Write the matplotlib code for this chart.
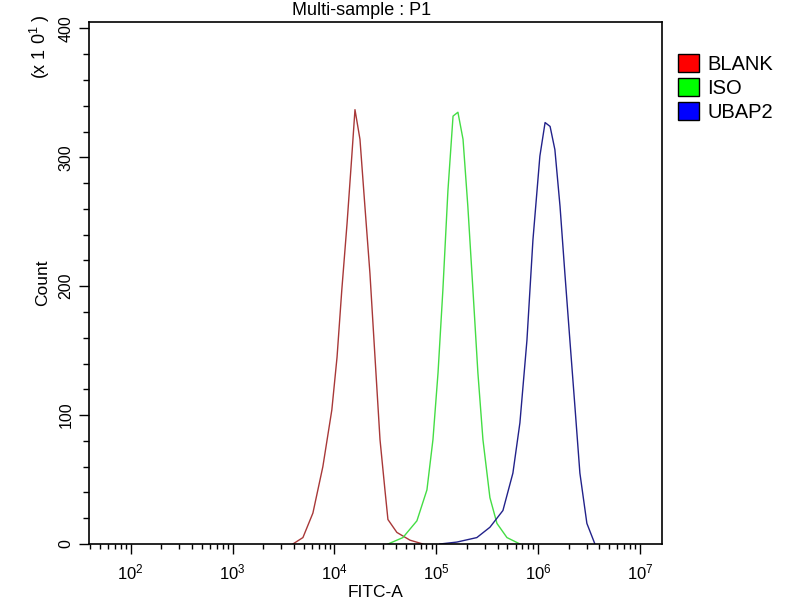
import numpy as np
import matplotlib
matplotlib.use("Agg")
import matplotlib.pyplot as plt
from matplotlib.patches import Patch
from matplotlib.ticker import LogLocator, MultipleLocator, NullFormatter

plt.rcParams['font.family'] = ['Liberation Sans', 'DejaVu Sans']
plt.rcParams['mathtext.fontset'] = 'custom'
plt.rcParams['mathtext.rm'] = 'Liberation Sans'

# Data (FITC-A value, count in units of 10^1)
blank_x = [3.90e3, 4.90e3, 6.14e3, 7.69e3, 9.42e3, 1.06e4, 1.18e4, 1.33e4, 1.48e4, 1.59e4,
           1.78e4, 1.99e4, 2.23e4, 2.50e4, 2.80e4, 3.13e4, 3.35e4, 4.10e4, 5.51e4, 7.39e4]
blank_y = [0, 5, 24, 60, 104, 145, 197, 249, 301, 337,
           314, 262, 210, 145, 81, 42, 19, 9, 3, 0]

iso_x = [3.35e4, 4.70e4, 6.45e4, 8.09e4, 9.27e4, 1.04e5, 1.16e5, 1.30e5, 1.46e5, 1.63e5,
         1.83e5, 2.04e5, 2.29e5, 2.56e5, 2.87e5, 3.36e5, 3.94e5, 4.94e5, 6.63e5]
iso_y = [0, 5, 18, 42, 81, 133, 197, 274, 332, 335,
         314, 262, 197, 133, 81, 36, 16, 5, 0]

ubap2_x = [1.08e5, 1.59e5, 2.50e5, 3.36e5, 4.51e5, 5.65e5, 6.62e5, 7.76e5, 8.89e5, 1.04e6,
           1.17e6, 1.31e6, 1.46e6, 1.64e6, 1.83e6, 2.05e6, 2.30e6, 2.57e6, 3.01e6, 3.61e6]
ubap2_y = [0, 1.5, 5, 13, 26, 55, 94, 158, 236, 301,
           327, 324, 306, 262, 210, 158, 106, 55, 16, 0]

names = ['BLANK', 'ISO', 'UBAP2']
line_colors = ['#a83838', '#44dd44', '#22228a']
legend_colors = ['#ff0000', '#00ff00', '#0000ff']

fig = plt.figure(figsize=(8, 6), dpi=100)
ax = fig.add_axes([0.111, 0.0933, 0.7165, 0.87])

for xs, ys, c in zip([blank_x, iso_x, ubap2_x], [blank_y, iso_y, ubap2_y], line_colors):
    ax.plot(xs, ys, color=c, lw=1.0)

ax.set_xscale('log')
ax.set_xlim(38.7, 1.645e7)
ax.set_ylim(0, 405)

ax.xaxis.set_major_locator(LogLocator(base=10, numticks=10))
ax.xaxis.set_minor_locator(LogLocator(base=10, subs=np.arange(2, 10), numticks=20))
ax.xaxis.set_minor_formatter(NullFormatter())
ax.yaxis.set_major_locator(MultipleLocator(100))
ax.yaxis.set_minor_locator(MultipleLocator(20))

ax.tick_params(axis='x', which='major', length=7, width=1, labelsize=12, pad=6)
ax.tick_params(axis='x', which='minor', length=3.5, width=1)
ax.tick_params(axis='y', which='major', length=7, width=1, labelsize=11.5, pad=4)
ax.tick_params(axis='y', which='minor', length=4.5, width=1)
for lbl in ax.get_yticklabels():
    lbl.set_rotation(90)
    lbl.set_va('center')

for s in ax.spines.values():
    s.set_linewidth(1.2)

ax.set_xlabel('FITC-A', fontsize=12.5, labelpad=2)
ax.set_ylabel('Count', fontsize=12.5, labelpad=6)

fig.text(0.452, 0.975, 'Multi-sample : P1', ha='center', va='baseline', fontsize=13)
fig.text(0.05, 0.922, r'(x 1 0$^{1}$ )', rotation=90, ha='center', va='center', fontsize=13)

handles = [Patch(facecolor=c, edgecolor='black', lw=1) for c in legend_colors]
fig.legend(handles, names, loc='upper left', bbox_to_anchor=(0.848, 0.91),
           frameon=False, fontsize=14.5, handlelength=1.0, handleheight=1.0,
           handletextpad=0.45, labelspacing=0.2, borderpad=0, borderaxespad=0)

fig.savefig('out.png', dpi=100)
